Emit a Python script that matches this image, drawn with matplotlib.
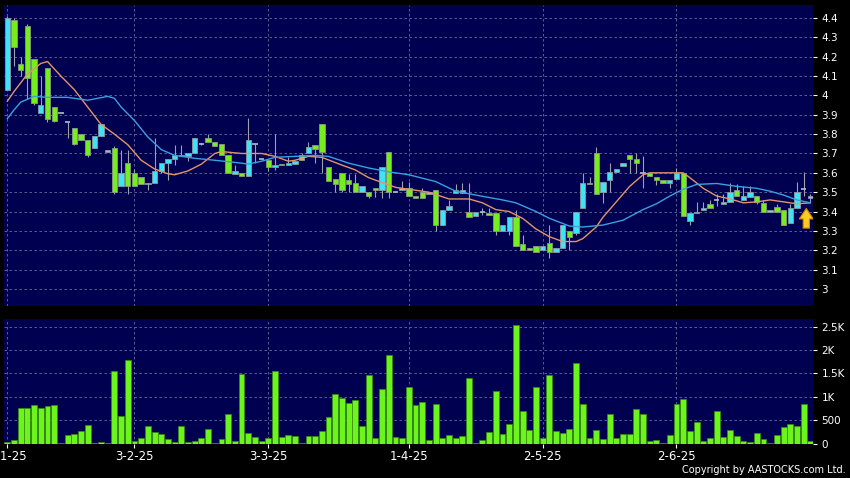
import numpy as np
import matplotlib
matplotlib.use("Agg")
from matplotlib import pyplot as plt
from matplotlib.patches import FancyArrowPatch

# daily candles, one per trading day (index 0 = first bar on the chart)
opens = [4.03, 4.39, 4.16, 4.36, 4.19, 3.91, 4.14, 3.94, 3.91, 3.86,
         3.83, 3.80, 3.77, 3.73, 3.79, 3.71, 3.73, 3.53, 3.65, 3.60,
         3.58, 3.54, 3.55, 3.61, 3.65, 3.67, 3.69, 3.685, 3.70, 3.75,
         3.78, 3.76, 3.75, 3.69, 3.595, 3.60, 3.585, 3.75, 3.67, 3.665,
         3.63, 3.645, 3.64, 3.645, 3.69, 3.70, 3.745, 3.85, 3.63, 3.57,
         3.60, 3.565, 3.55, 3.50, 3.50, 3.52, 3.51, 3.71, 3.50, 3.51,
         3.52, 3.48, 3.50, 3.49, 3.51, 3.33, 3.41, 3.495, 3.495, 3.40,
         3.375, 3.40, 3.39, 3.39, 3.30, 3.30, 3.37, 3.23, 3.21, 3.22,
         3.20, 3.24, 3.19, 3.21, 3.30, 3.29, 3.42, 3.55, 3.70, 3.50,
         3.565, 3.605, 3.635, 3.69, 3.67, 3.60, 3.60, 3.58, 3.565, 3.55,
         3.57, 3.60, 3.35, 3.39, 3.41, 3.44, 3.46, 3.44, 3.45, 3.51,
         3.46, 3.475, 3.48, 3.445, 3.40, 3.425, 3.41, 3.34, 3.42, 3.515,
         3.47]
highs = [4.41, 4.40, 4.20, 4.37, 4.19, 4.10, 4.14, 3.94, 3.91, 3.86,
         3.83, 3.80, 3.77, 3.79, 3.85, 3.72, 3.74, 3.72, 3.72, 3.62,
         3.58, 3.55, 3.78, 3.65, 3.67, 3.745, 3.745, 3.70, 3.78, 3.755,
         3.80, 3.76, 3.75, 3.69, 3.64, 3.60, 3.885, 3.75, 3.67, 3.665,
         3.80, 3.645, 3.68, 3.66, 3.70, 3.76, 3.745, 3.85, 3.63, 3.57,
         3.60, 3.595, 3.595, 3.53, 3.50, 3.52, 3.63, 3.71, 3.50, 3.56,
         3.555, 3.48, 3.52, 3.50, 3.51, 3.41, 3.46, 3.54, 3.55, 3.545,
         3.40, 3.42, 3.42, 3.39, 3.33, 3.37, 3.41, 3.28, 3.21, 3.22,
         3.22, 3.33, 3.21, 3.33, 3.30, 3.40, 3.60, 3.58, 3.735, 3.555,
         3.65, 3.62, 3.65, 3.69, 3.70, 3.685, 3.60, 3.58, 3.565, 3.565,
         3.625, 3.60, 3.39, 3.45, 3.45, 3.46, 3.49, 3.49, 3.545, 3.54,
         3.53, 3.53, 3.48, 3.46, 3.41, 3.44, 3.41, 3.44, 3.555, 3.605,
         3.49]
lows = [4.03, 4.15, 4.10, 3.98, 3.95, 3.91, 3.865, 3.86, 3.91, 3.78,
        3.745, 3.77, 3.68, 3.73, 3.79, 3.71, 3.49, 3.53, 3.49, 3.53,
        3.54, 3.51, 3.55, 3.60, 3.565, 3.64, 3.685, 3.66, 3.70, 3.745,
        3.76, 3.74, 3.69, 3.60, 3.595, 3.585, 3.585, 3.65, 3.67, 3.61,
        3.615, 3.64, 3.64, 3.645, 3.665, 3.70, 3.65, 3.60, 3.56, 3.50,
        3.50, 3.50, 3.50, 3.50, 3.47, 3.475, 3.47, 3.47, 3.50, 3.51,
        3.48, 3.47, 3.47, 3.49, 3.30, 3.33, 3.41, 3.495, 3.495, 3.37,
        3.375, 3.38, 3.38, 3.28, 3.30, 3.28, 3.22, 3.20, 3.20, 3.19,
        3.20, 3.16, 3.19, 3.21, 3.20, 3.28, 3.42, 3.54, 3.49, 3.445,
        3.50, 3.605, 3.635, 3.60, 3.60, 3.52, 3.585, 3.535, 3.55, 3.52,
        3.57, 3.375, 3.33, 3.39, 3.41, 3.42, 3.43, 3.44, 3.45, 3.48,
        3.46, 3.475, 3.44, 3.40, 3.40, 3.40, 3.33, 3.34, 3.42, 3.48,
        3.45]
closes = [4.40, 4.25, 4.13, 4.09, 3.96, 3.95, 3.88, 3.87, 3.91, 3.86,
          3.75, 3.77, 3.69, 3.79, 3.85, 3.72, 3.50, 3.60, 3.53, 3.53,
          3.54, 3.55, 3.61, 3.65, 3.67, 3.69, 3.685, 3.70, 3.78, 3.75,
          3.76, 3.74, 3.69, 3.60, 3.61, 3.585, 3.77, 3.75, 3.67, 3.63,
          3.64, 3.64, 3.65, 3.66, 3.665, 3.735, 3.725, 3.71, 3.56, 3.54,
          3.51, 3.54, 3.50, 3.53, 3.48, 3.51, 3.63, 3.50, 3.50, 3.52,
          3.48, 3.47, 3.47, 3.50, 3.33, 3.41, 3.43, 3.51, 3.51, 3.37,
          3.40, 3.40, 3.38, 3.30, 3.33, 3.37, 3.22, 3.20, 3.20, 3.19,
          3.22, 3.19, 3.21, 3.33, 3.27, 3.40, 3.55, 3.54, 3.49, 3.555,
          3.605, 3.62, 3.65, 3.67, 3.65, 3.60, 3.585, 3.565, 3.55, 3.565,
          3.60, 3.375, 3.39, 3.40, 3.42, 3.42, 3.46, 3.45, 3.50, 3.48,
          3.48, 3.50, 3.45, 3.40, 3.41, 3.40, 3.33, 3.42, 3.50, 3.515,
          3.48]
volumes = [28, 71, 756, 750, 814, 764, 793, 814, 10, 178,
           200, 278, 392, 10, 28, 20, 1543, 578, 1785, 64,
           107, 371, 250, 193, 93, 28, 385, 28, 57, 107,
           307, 14, 93, 621, 50, 1492, 228, 135, 50, 107,
           1543, 135, 185, 164, 21, 150, 164, 264, 557, 1050,
           971, 864, 936, 371, 1471, 121, 1157, 1885, 135, 107,
           1207, 821, 893, 78, 842, 107, 178, 107, 150, 1393,
           15, 78, 250, 1121, 200, 407, 2535, 700, 285, 1200,
           107, 1464, 271, 214, 300, 1728, 835, 107, 285, 93,
           628, 107, 193, 200, 736, 628, 50, 71, 21, 178,
           842, 950, 264, 464, 50, 107, 693, 142, 292, 171,
           43, 36, 228, 93, 21, 185, 350, 407, 378, 835,
           43]

# moving averages (bar index, price)
ma_short_idx = [0, 1, 3, 5, 6, 8, 10, 12, 14, 16, 18, 20, 22, 24, 25, 27, 29,
                31, 32, 35, 38, 40, 42, 43, 45, 47, 50, 52, 54, 56, 58, 60, 63,
                66, 69, 71, 73, 75, 77, 79, 81, 83, 85, 86, 87, 88, 89, 90, 91,
                92, 93, 94, 95, 96, 100, 101, 102, 104, 106, 108, 110, 112, 114,
                116, 118, 120]
ma_short = [3.97, 4.02, 4.11, 4.165, 4.175, 4.10, 4.03, 3.94, 3.85, 3.80,
            3.745, 3.665, 3.62, 3.595, 3.59, 3.61, 3.645, 3.70, 3.71, 3.70,
            3.70, 3.685, 3.66, 3.665, 3.685, 3.68, 3.64, 3.615, 3.575, 3.55,
            3.525, 3.515, 3.50, 3.465, 3.465, 3.445, 3.41, 3.40, 3.365, 3.31,
            3.27, 3.245, 3.245, 3.26, 3.29, 3.32, 3.37, 3.41, 3.45, 3.49,
            3.53, 3.56, 3.59, 3.60, 3.60, 3.60, 3.575, 3.52, 3.48, 3.465,
            3.445, 3.45, 3.46, 3.45, 3.44, 3.445]
ma_long_idx = [0, 1, 2, 4, 6, 9, 12, 15, 16, 17, 19, 21, 23, 25, 28, 31, 35,
               36, 38, 40, 43, 46, 48, 51, 54, 57, 60, 64, 67, 70, 74, 76, 79,
               81, 84, 86, 89, 92, 95, 97, 99, 101, 103, 106, 109, 112, 114,
               116, 118, 120]
ma_long = [3.88, 3.925, 3.965, 3.995, 3.99, 3.99, 3.975, 3.995, 3.985, 3.94,
           3.87, 3.785, 3.72, 3.69, 3.675, 3.665, 3.65, 3.645, 3.66, 3.68,
           3.685, 3.69, 3.685, 3.65, 3.625, 3.605, 3.59, 3.555, 3.505, 3.485,
           3.46, 3.445, 3.40, 3.365, 3.325, 3.32, 3.33, 3.355, 3.41, 3.44,
           3.48, 3.515, 3.54, 3.545, 3.53, 3.52, 3.505, 3.485, 3.46, 3.445]

date_idx = [0, 19, 39, 60, 80, 100]
date_labels = ["2-1-25", "3-2-25", "3-3-25", "1-4-25", "2-5-25", "2-6-25"]

price_ticks = np.round(np.arange(3.0, 4.41, 0.1), 1)
vol_ticks = [0, 500, 1000, 1500, 2000, 2500]
vol_labels = ["0", "500", "1K", "1.5K", "2K", "2.5K"]

UP = "#3ee4f4"
DOWN = "#74ee1c"
PANEL = "#000050"
GRID = "#6a6a9a"

fig = plt.figure(figsize=(8.5, 4.78), dpi=100, facecolor="black")
ax = fig.add_axes([4 / 850, 1 - 306 / 478, 809 / 850, 301 / 478])
axv = fig.add_axes([4 / 850, 1 - 443.5 / 478, 809 / 850, 124.5 / 478])

n = np.arange(len(closes))
o = np.array(opens)
c = np.array(closes)

# wicks
ax.vlines(n, lows, highs, color="#a0a0a8", linewidth=0.8, zorder=2)

# bodies
up = c > o
down = c < o
flat = c == o
ax.bar(n[up], (c - o)[up], bottom=o[up], width=0.8, color=UP,
       edgecolor="#8a9aa0", linewidth=0.6, zorder=3)
ax.bar(n[down], (o - c)[down], bottom=c[down], width=0.8, color=DOWN,
       edgecolor="#8a9a80", linewidth=0.6, zorder=3)
ax.hlines(c[flat], n[flat] - 0.4, n[flat] + 0.4, color="#b0c0c8",
          linewidth=1.2, zorder=3)

ax.plot(ma_short_idx, ma_short, color="#e49468", linewidth=1.0, zorder=4)
ax.plot(ma_long_idx, ma_long, color="#3aa0e0", linewidth=1.0, zorder=4)

# yellow arrow on the last bars
arrow = FancyArrowPatch((119.4, 3.30), (119.4, 3.43),
                        arrowstyle="simple,head_width=1.0,head_length=0.75,tail_width=0.45",
                        mutation_scale=10, fc="#ffcc22", ec="#d08a00",
                        linewidth=0.8, zorder=5)
ax.add_patch(arrow)

axv.bar(n, volumes, width=0.88, color="#6cf51c", edgecolor="#3a8a10",
        linewidth=0.5, zorder=3)

for a in (ax, axv):
    a.set_facecolor(PANEL)
    for s in a.spines.values():
        s.set_visible(False)
    a.set_xlim(-0.5, 120.4)
    a.yaxis.tick_right()
    a.set_xticks(date_idx)
    a.grid(True, color=GRID, linestyle=(0, (3, 3)), linewidth=0.6)
    a.set_axisbelow(True)
    a.tick_params(axis="y", colors="white", labelsize=7.5, length=3,
                  width=0.8, pad=3)

ax.set_ylim(2.912, 4.467)
ax.set_yticks(price_ticks)
ax.set_yticklabels([f"{v:g}" for v in price_ticks])
ax.tick_params(axis="x", length=0, labelbottom=False)

axv.set_ylim(0, 2664)
axv.set_yticks(vol_ticks)
axv.set_yticklabels(vol_labels)
axv.set_xticklabels(date_labels)
axv.tick_params(axis="x", colors="white", labelsize=8.5, length=3,
                width=0.8, pad=2)

fig.text(0.995, 0.006, "Copyright by AASTOCKS.com Ltd.", ha="right",
         va="bottom", color="white", fontsize=7)

fig.savefig("out.png", dpi=100, facecolor="black")
